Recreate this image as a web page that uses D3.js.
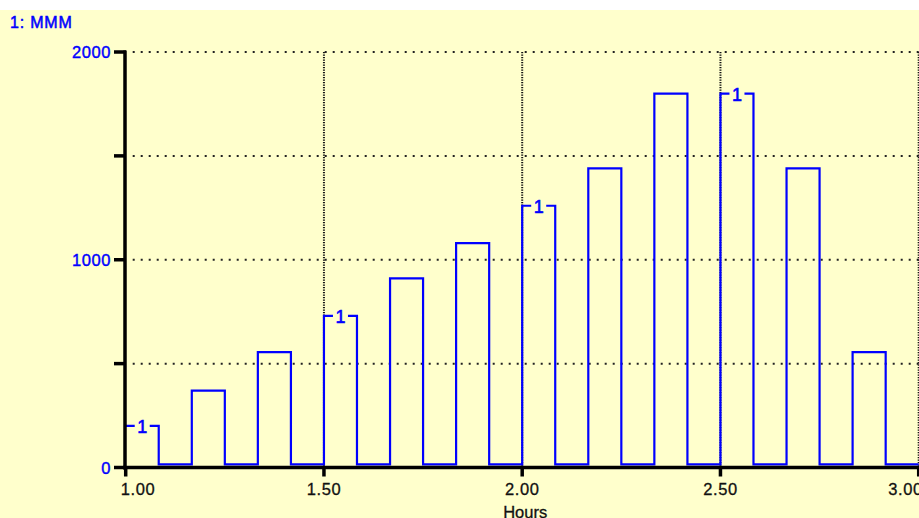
<!DOCTYPE html>
<html>
<head>
<meta charset="utf-8">
<script src="https://cdn.jsdelivr.net/npm/d3@7"></script>
<style>
  html, body { margin: 0; padding: 0; background: #ffffff; }
  svg { display: block; }
  text { font-family: "Liberation Sans", Arial, sans-serif; }
</style>
</head>
<body>
<svg id="chart" width="919" height="518"></svg>
<script>
// Series "1: MMM" — pulse train over time (hours)
const seriesName = "1: MMM";
const pulseStart = [1.0, 1.1667, 1.3333, 1.5, 1.6667, 1.8333, 2.0, 2.1667, 2.3333, 2.5, 2.6667, 2.8333];
const pulseEnd   = [1.0833, 1.25, 1.4167, 1.5833, 1.75, 1.9167, 2.0833, 2.25, 2.4167, 2.5833, 2.75, 2.9167];
const pulseValue = [200, 370, 555, 730, 910, 1080, 1260, 1440, 1800, 1800, 1440, 555];
const baseLevel = 15;
const labelledPulses = [0, 3, 6, 9];

const xDomain = [1.0, 3.0];
const yDomain = [0, 2000];
const xTicks = [1.0, 1.5, 2.0, 2.5, 3.0];
const yTicks = [0, 500, 1000, 1500, 2000];
const yLabelled = [0, 1000, 2000];
const xTitle = "Hours";

const W = 919, H = 518;
const svg = d3.select("#chart");

// panel background
svg.append("rect").attr("x", 0).attr("y", 10).attr("width", W).attr("height", H - 10)
  .attr("fill", "#ffffcc");

const x = d3.scaleLinear().domain(xDomain).range([125.7, 918.7]);
const y = d3.scaleLinear().domain(yDomain).range([467.5, 52]);

// dotted grid
const grid = svg.append("g");
grid.selectAll("line.h").data(yTicks.filter(d => d > 0)).join("line")
  .attr("x1", x(xDomain[0]) + 7).attr("x2", x(xDomain[1]))
  .attr("y1", d => y(d)).attr("y2", d => y(d))
  .attr("stroke", "#222").attr("stroke-width", 2).attr("stroke-dasharray", "2,6");
grid.selectAll("line.v").data(xTicks.filter(d => d > xDomain[0])).join("line")
  .attr("x1", d => x(d)).attr("x2", d => x(d))
  .attr("y1", y(yDomain[1])).attr("y2", y(0))
  .attr("stroke", "#111").attr("stroke-width", 2).attr("stroke-dasharray", "1.3,1.2");

// step series built from the pulse arrays
const pts = [];
pulseStart.forEach((s, i) => {
  if (i > 0 || s > xDomain[0]) pts.push([s, baseLevel]);
  pts.push([s, pulseValue[i]]);
  pts.push([pulseEnd[i], baseLevel]);
});
pts.push([xDomain[1], baseLevel]);

const line = d3.line().x(d => x(d[0])).y(d => y(d[1])).curve(d3.curveStepAfter);
svg.append("path").datum(pts).attr("d", line)
  .attr("fill", "none").attr("stroke", "#0000ff").attr("stroke-width", 2.2)
  .attr("stroke-linejoin", "miter");

// series number labels sitting on the pulse tops
const lab = svg.append("g");
labelledPulses.forEach(i => {
  const cx = (x(pulseStart[i]) + x(pulseEnd[i])) / 2;
  const cy = y(pulseValue[i]);
  lab.append("rect").attr("x", cx - 7.5).attr("y", cy - 3).attr("width", 15).attr("height", 6)
    .attr("fill", "#ffffcc");
  lab.append("text").attr("x", cx).attr("y", cy + 7)
    .attr("text-anchor", "middle").attr("fill", "#0000ff")
    .attr("stroke", "#0000ff").attr("stroke-width", 0.6)
    .attr("font-size", 18).text("1");
});

// axes
const ax = svg.append("g");
ax.append("line").attr("x1", 125).attr("x2", 125).attr("y1", y(yDomain[1]) - 1.5).attr("y2", y(0) + 2)
  .attr("stroke", "#000").attr("stroke-width", 3.5);
ax.append("line").attr("x1", 123).attr("x2", W).attr("y1", y(0)).attr("y2", y(0))
  .attr("stroke", "#000").attr("stroke-width", 3.5);

ax.selectAll("line.yt").data(yTicks).join("line")
  .attr("x1", 114).attr("x2", 126)
  .attr("y1", d => y(d)).attr("y2", d => y(d))
  .attr("stroke", "#000").attr("stroke-width", 3.5);
ax.selectAll("text.yl").data(yLabelled).join("text")
  .attr("x", 111).attr("y", d => y(d) + 6)
  .attr("text-anchor", "end").attr("fill", "#0000ff")
  .attr("stroke", "#0000ff").attr("stroke-width", 0.4)
  .attr("font-size", 16.5).attr("letter-spacing", 0.6)
  .text(d => d3.format("d")(d));

ax.selectAll("line.xt").data(xTicks).join("line")
  .attr("x1", d => x(d)).attr("x2", d => x(d))
  .attr("y1", y(0)).attr("y2", y(0) + 9)
  .attr("stroke", "#000").attr("stroke-width", 3.5);
ax.selectAll("text.xl").data(xTicks).join("text")
  .attr("x", (d, i) => i === 0 ? x(d) - 5 : i === xTicks.length - 1 ? x(d) + 4 : x(d))
  .attr("y", 495)
  .attr("text-anchor", (d, i) => i === 0 ? "start" : i === xTicks.length - 1 ? "end" : "middle")
  .attr("fill", "#111").attr("stroke", "#111").attr("stroke-width", 0.3)
  .attr("font-size", 16.5).attr("letter-spacing", 0.6)
  .text(d => d3.format(".2f")(d));

svg.append("text").attr("x", x(2.0) + 3).attr("y", 518)
  .attr("text-anchor", "middle").attr("fill", "#111").attr("stroke", "#111").attr("stroke-width", 0.3)
  .attr("font-size", 16.5)
  .text(xTitle);

svg.append("text").attr("x", 10).attr("y", 28)
  .attr("fill", "#0000ff").attr("stroke", "#0000ff").attr("stroke-width", 0.5)
  .attr("font-size", 16).attr("letter-spacing", 0.8)
  .text(seriesName);
</script>
</body>
</html>
